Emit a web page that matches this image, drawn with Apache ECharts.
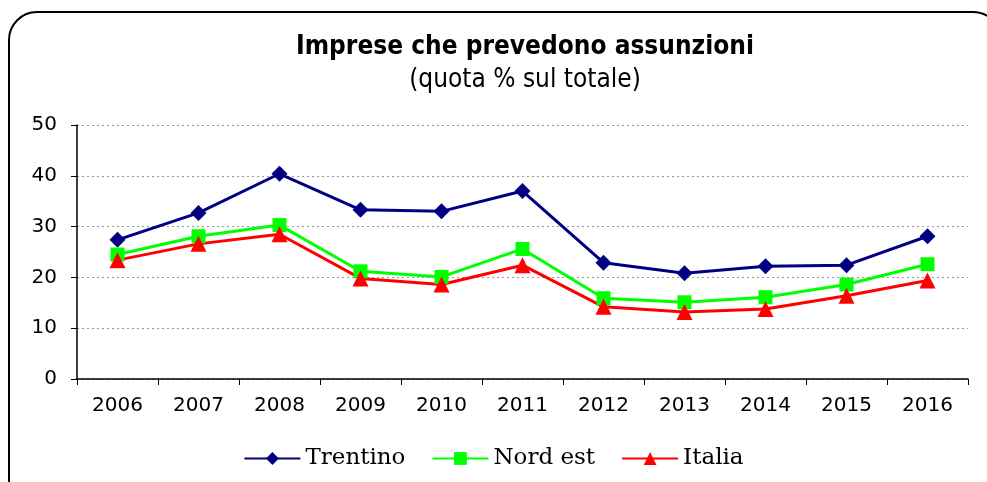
<!DOCTYPE html>
<html>
<head>
<meta charset="utf-8">
<script src="https://cdn.jsdelivr.net/npm/echarts@6/dist/echarts.min.js"></script>
<style>
  html, body { margin: 0; padding: 0; background: #fff; }
  #chart { width: 987px; height: 482px; }
</style>
</head>
<body>
<div id="chart"></div>
<script>
const years = ['2006', '2007', '2008', '2009', '2010', '2011', '2012', '2013', '2014', '2015', '2016']
const trentino = [27.4, 32.7, 40.4, 33.3, 33.0, 37.0, 22.9, 20.8, 22.2, 22.4, 28.1]
const nordEst = [24.5, 28.1, 30.3, 21.2, 20.1, 25.6, 15.9, 15.1, 16.1, 18.6, 22.6]
const italia = [23.4, 26.6, 28.5, 19.8, 18.6, 22.4, 14.2, 13.2, 13.8, 16.4, 19.4]

const chart = echarts.init(document.getElementById('chart'))

const option = {
  animation: false,
  backgroundColor: '#fff',
  color: ['#000080', '#00ff00', '#ff0000'],
  graphic: [{
    type: 'rect',
    shape: { x: 9, y: 12, width: 992, height: 495, r: 28 },
    style: { fill: 'none', stroke: '#000', lineWidth: 2 },
    silent: true,
  }],
  title: {
    text: 'Imprese che prevedono assunzioni',
    subtext: '(quota % sul totale)',
    left: 520,
    textAlign: 'center',
    top: 29,
    itemGap: 7,
    textStyle: { fontFamily: 'DejaVu Sans Condensed', fontWeight: 'bold', fontSize: 26, color: '#000' },
    subtextStyle: { fontFamily: 'DejaVu Sans Condensed', fontSize: 26, color: '#000' },
  },
  grid: { left: 77, right: 19, top: 125, bottom: 103 },
  legend: {
    bottom: 7,
    left: 'center',
    itemWidth: 56,
    itemHeight: 16,
    itemGap: 26,
    textStyle: { fontFamily: 'DejaVu Serif', fontSize: 23, color: '#000' },
    data: ['Trentino', 'Nord est', 'Italia'],
  },
  xAxis: {
    type: 'category',
    data: years,
    boundaryGap: true,
    axisLine: { lineStyle: { color: '#000', width: 1.5 } },
    axisTick: { show: true, length: 6, lineStyle: { color: '#000' } },
    axisLabel: { fontFamily: 'DejaVu Sans', fontSize: 20, color: '#000', margin: 17 },
  },
  yAxis: {
    type: 'value',
    min: 0,
    max: 50,
    interval: 10,
    axisLine: { show: true, lineStyle: { color: '#000', width: 1.5 } },
    axisTick: { show: true, length: 6, lineStyle: { color: '#000' } },
    axisLabel: { fontFamily: 'DejaVu Sans', fontSize: 20, color: '#000', margin: 20 },
    splitLine: { lineStyle: { color: '#999', type: [2, 3], width: 1 } },
  },
  series: [
    { name: 'Trentino', type: 'line', data: trentino, symbol: 'diamond', symbolSize: 16, lineStyle: { width: 3 } },
    { name: 'Nord est', type: 'line', data: nordEst, symbol: 'rect', symbolSize: 14, lineStyle: { width: 3 } },
    { name: 'Italia', type: 'line', data: italia, symbol: 'triangle', symbolSize: 16, lineStyle: { width: 3 } },
  ],
}
chart.setOption(option)
</script>
</body>
</html>
